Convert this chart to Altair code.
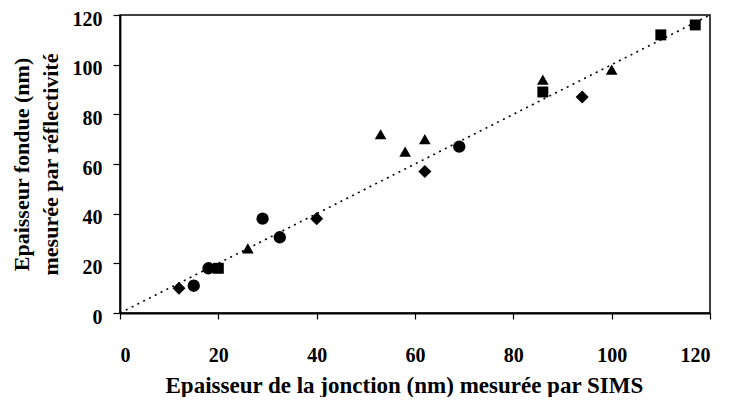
import altair as alt
import pandas as pd

# data
diamond_x = [12, 40, 62, 94]
diamond_y = [10, 38, 57, 87]
circle_x = [15, 18, 29, 32.5, 69]
circle_y = [11, 18, 38, 30.5, 67]
triangle_x = [26, 53, 58, 62, 86, 100]
triangle_y = [26, 72, 65, 70, 94, 98]
square_x = [20, 86, 110, 117]
square_y = [18, 89, 112, 116]
line_x = [0, 120]
line_y = [0, 120]
ticks = [0, 20, 40, 60, 80, 100, 120]

rows = []
for name, xs, ys in [("diamond", diamond_x, diamond_y), ("circle", circle_x, circle_y),
                     ("triangle-up", triangle_x, triangle_y), ("square", square_x, square_y)]:
    for a, b in zip(xs, ys):
        rows.append({"x": a, "y": b, "s": name})
pts = pd.DataFrame(rows)
ln = pd.DataFrame({"x": line_x, "y": line_y})

FONT = "Liberation Serif"
xscale = alt.Scale(domain=[0, 120], nice=False, zero=True)
yscale = alt.Scale(domain=[0, 120], nice=False, zero=True)

xaxis = alt.Axis(title="Epaisseur de la jonction (nm) mesurée par SIMS", values=ticks,
                 grid=False, tickSize=6, labelPadding=26, labelFontSize=20,
                 titleFontSize=23, titleAlign="left", titleBaseline="alphabetic",
                 titleX=45, titleY=79)
yaxis = alt.Axis(title=["Epaisseur fondue (nm)", "mesurée par réflectivité"], values=ticks,
                 grid=False, tickSize=7, labelPadding=11, labelFontSize=20, labelOffset=4,
                 titleFontSize=22, titleAlign="center", titleBaseline="alphabetic",
                 titleAngle=270, titleX=-92, titleY=149, titleLineHeight=29)

line = alt.Chart(ln).mark_line(color="black", strokeDash=[2, 4.5], strokeWidth=1.6).encode(
    x=alt.X("x:Q", scale=xscale, axis=xaxis),
    y=alt.Y("y:Q", scale=yscale, axis=yaxis),
)

shape_dom = ["diamond", "circle", "triangle-up", "square"]
points = alt.Chart(pts).mark_point(filled=True, opacity=1, color="black").encode(
    x=alt.X("x:Q", scale=xscale),
    y=alt.Y("y:Q", scale=yscale),
    shape=alt.Shape("s:N", scale=alt.Scale(domain=shape_dom, range=shape_dom), legend=None),
    size=alt.Size("s:N", scale=alt.Scale(domain=shape_dom, range=[170, 120, 200, 150]), legend=None),
)

chart = alt.layer(line, points).properties(
    width=590, height=298,
    autosize=alt.AutoSizeParams(type="none"),
    padding={"left": 112, "top": 7, "right": 12, "bottom": 84},
    background="white",
).configure_view(stroke="black", strokeWidth=1.5).configure_axis(
    labelFont=FONT, titleFont=FONT, labelFontWeight="bold", titleFontWeight="bold",
    labelColor="black", titleColor="black",
    domainColor="black", tickColor="black", domainWidth=1.8, tickWidth=1.2,
)

chart.save("out.html", embed_options={"renderer": "svg", "actions": False})
